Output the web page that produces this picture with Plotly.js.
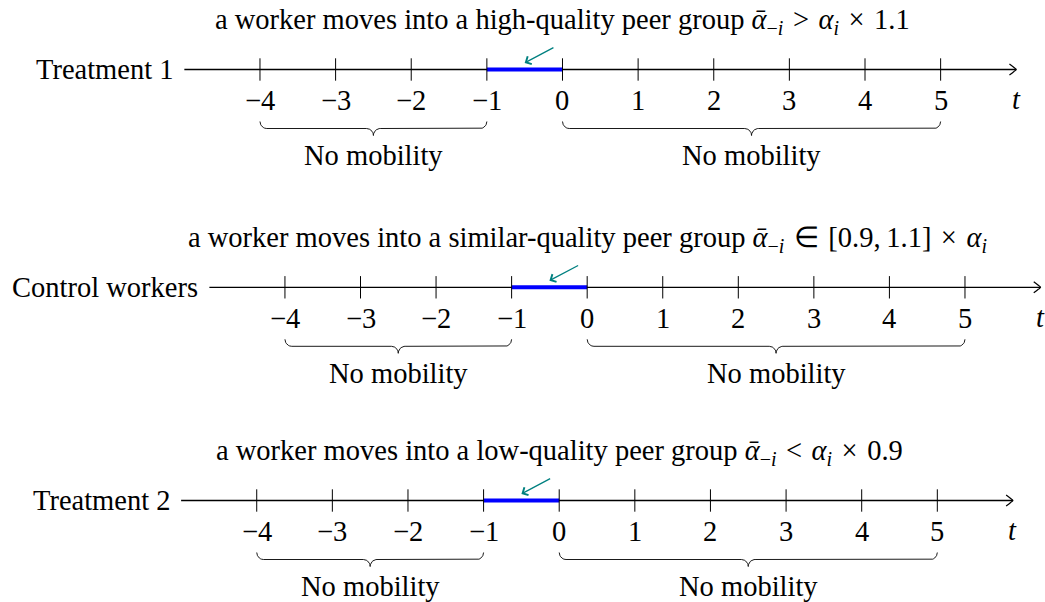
<!DOCTYPE html>
<html>
<head>
<meta charset="utf-8">
<script src="https://cdn.plot.ly/plotly-3.0.1.min.js"></script>
<style>html,body{margin:0;padding:0;background:#fff;}#chart{width:1045px;height:602px;}</style>
</head>
<body>
<div id="chart"></div>
<script>
// ---- data ----
const groupLabels = ['Treatment 1', 'Control workers', 'Treatment 2'];
const groupTitles = [
  'a worker moves into a high-quality peer group <i>ᾱ</i><sub>−<i>i</i></sub>&#8196;&gt;&#8196;<i>α</i><sub><i>i</i></sub>&#8196;×&#8196;1.1',
  'a worker moves into a similar-quality peer group <i>ᾱ</i><sub>−<i>i</i></sub>&#8196;∈&#8196;[0.9,&#8201;1.1]&#8196;×&#8196;<i>α</i><sub><i>i</i></sub>',
  'a worker moves into a low-quality peer group <i>ᾱ</i><sub>−<i>i</i></sub>&#8196;&lt;&#8196;<i>α</i><sub><i>i</i></sub>&#8196;×&#8196;0.9'
];
const tickValues = [-4, -3, -2, -1, 0, 1, 2, 3, 4, 5];
const tickLabels = ['−4', '−3', '−2', '−1', '0', '1', '2', '3', '4', '5'];
const axisStart = -5;
const axisEnd = 6;
const axisName = 't';
const moveWindow = [-1, 0];
const arrowFrom = -0.1;
const arrowTo = -0.5;
const braceStarts = [-4, 0];
const braceEnds = [-1, 5];
const braceLabels = ['No mobility', 'No mobility'];

// ---- layout constants ----
const rowY = [69.5, 287.3, 500.5];
const xRanges = [[-7.4375, 6.380], [-7.771, 6.059], [-7.395, 6.424]];
const FONT = 'Liberation Serif, Times New Roman, serif';
const FS = 28.5;

function bracePath(a, b, top) {
  const c = 0.09, h = 7;
  const xs = [], ys = [];
  const m = (a + b) / 2;
  const N = 10;
  for (let k = 0; k <= N; k++) { const t = k / N * Math.PI / 2; xs.push(a + c * (1 - Math.cos(t))); ys.push(top + h * Math.sin(t)); }
  for (let k = 0; k <= N; k++) { const t = k / N * Math.PI / 2; xs.push(m - c + c * Math.sin(t)); ys.push(top + h + h * (1 - Math.cos(t))); }
  for (let k = 0; k <= N; k++) { const t = k / N * Math.PI / 2; xs.push(m + c - c * Math.cos(t)); ys.push(top + 2 * h - h * Math.sin(t)); }
  for (let k = 0; k <= N; k++) { const t = k / N * Math.PI / 2; xs.push(b - c + c * Math.sin(t)); ys.push(top + h - h * (1 - Math.cos(t))); }
  return {xs, ys};
}

const traces = [];
const annotations = [];
const layout = {
  width: 1045, height: 602,
  margin: {l: 0, r: 0, t: 0, b: 0},
  paper_bgcolor: '#ffffff', plot_bgcolor: '#ffffff',
  showlegend: false,
  yaxis: {range: [602, 0], visible: false, fixedrange: true, domain: [0, 1]},
  annotations: annotations
};

function txt(xa, x, y, text, extra) {
  return Object.assign({xref: xa, yref: 'y', x: x, y: y, xanchor: 'center', yanchor: 'middle',
    text: text, showarrow: false, font: {family: FONT, size: FS, color: '#000'}}, extra || {});
}

groupLabels.forEach((lab, i) => {
  const xa = i === 0 ? 'x' : 'x' + (i + 1);
  const axKey = i === 0 ? 'xaxis' : 'xaxis' + (i + 1);
  layout[axKey] = {range: xRanges[i], visible: false, fixedrange: true, domain: [0, 1]};
  if (i > 0) layout[axKey].overlaying = 'x';
  const L = rowY[i];
  // main axis line
  traces.push({type: 'scatter', mode: 'lines', xaxis: xa, yaxis: 'y', x: [axisStart, axisEnd], y: [L, L],
    line: {color: '#000', width: 1.3}, hoverinfo: 'skip'});
  // arrow head of axis (chevron)
  traces.push({type: 'scatter', mode: 'lines', xaxis: xa, yaxis: 'y',
    x: [axisEnd - 0.09, axisEnd - 0.03, axisEnd, axisEnd - 0.03, axisEnd - 0.09],
    y: [L - 5.5, L - 2, L, L + 2, L + 5.5],
    line: {color: '#000', width: 1.2, shape: 'spline'}, hoverinfo: 'skip'});
  // blue move window
  traces.push({type: 'scatter', mode: 'lines', xaxis: xa, yaxis: 'y', x: moveWindow, y: [L, L],
    line: {color: '#0000ff', width: 4}, hoverinfo: 'skip'});
  // ticks
  traces.push({type: 'scatter', mode: 'markers', xaxis: xa, yaxis: 'y', x: tickValues, y: tickValues.map(() => L),
    marker: {symbol: 'line-ns', size: 16, color: '#000', line: {color: '#000', width: 1}}, hoverinfo: 'skip'});
  // tick labels
  tickValues.forEach((v, k) => annotations.push(txt(xa, v, L + 31, tickLabels[k])));
  // braces
  braceStarts.forEach((s, j) => {
    const p = bracePath(s, braceEnds[j], L + 52);
    traces.push({type: 'scatter', mode: 'lines', xaxis: xa, yaxis: 'y', x: p.xs, y: p.ys,
      line: {color: '#000', width: 0.9}, hoverinfo: 'skip'});
    annotations.push(txt(xa, (s + braceEnds[j]) / 2, L + 86, braceLabels[j]));
  });
  // group label
  annotations.push(txt(xa, axisStart, L, lab, {xanchor: 'right', xshift: -9}));
  // title
  annotations.push(txt(xa, 0, L - 48, groupTitles[i]));
  // axis name
  annotations.push(txt(xa, axisEnd, L + 30, '<i>' + axisName + '</i>'));
  // teal arrow
  annotations.push({xref: xa, yref: 'y', axref: xa, ayref: 'y', x: arrowTo, y: L - 6.6, ax: arrowFrom, ay: L - 22.6,
    text: '', showarrow: true, arrowhead: 4, arrowsize: 1.3, arrowwidth: 1.3, arrowcolor: '#008080', standoff: 0});
});

Plotly.newPlot('chart', traces, layout, {displayModeBar: false, staticPlot: true});
</script>
</body>
</html>
